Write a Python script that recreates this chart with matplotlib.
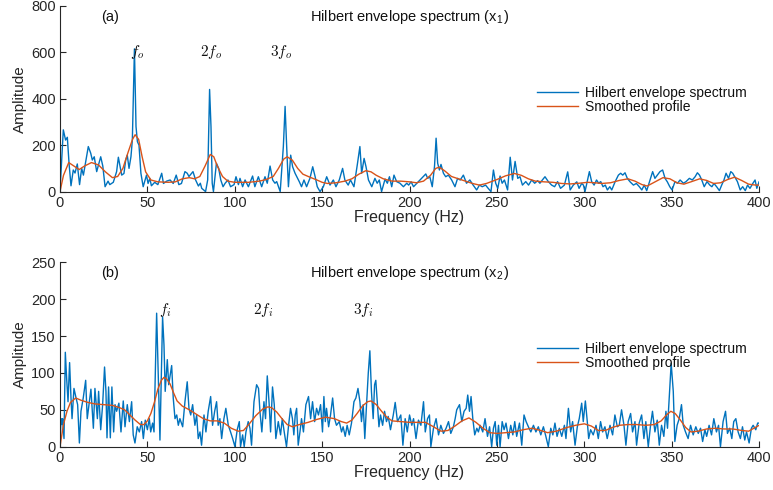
import matplotlib
matplotlib.use("Agg")
import matplotlib.pyplot as plt

plt.rcParams["font.family"] = ["Liberation Sans", "DejaVu Sans"]
plt.rcParams["mathtext.fontset"] = "cm"

BLUE = "#0072BD"
ORANGE = "#D95319"
AXC = "#262626"

# ---- (a) envelope spectrum of x1: frequency (Hz) / amplitude pairs ----
freq_a = [0, 1.9, 3.2, 4.2, 5.2, 6.3, 7.6, 8.6, 9.9, 11.2, 12.4, 13.4, 16.2, 17.6, 18.5, 19.6, 21.0, 23.3, 24.5, 25.8,
          27.5, 28.5, 30.5, 32.4, 33.4, 34.3, 35.3, 36.6, 37.6, 38.5, 39.5, 40.6, 41.4, 42.6, 43.5, 44.3, 45.2, 46.3, 47.6, 49.5,
          50.4, 51.4, 52.3, 54.2, 56.0, 58.2, 59.2, 61.0, 63.0, 64.8, 66.5, 68.0, 69.5, 71.5, 72.8, 73.8, 76.1, 77.6, 79.2, 80.3,
          81.1, 83.3, 84.5, 85.6, 86.4, 87.1, 87.8, 89.5, 90.8, 92.0, 93.3, 94.5, 96.1, 97.6, 99.6, 100.7, 102.1, 103.0, 104.5, 105.9,
          107.8, 110.2, 111.5, 113.5, 115.4, 117.3, 118.6, 120.2, 121.7, 123.0, 124.0, 126.0, 127.8, 128.8, 129.7, 130.7, 132.0, 133.1, 134.5, 135.5,
          136.9, 138.2, 139.6, 141.1, 143.0, 144.6, 146.0, 147.2, 148.8, 150.7, 152.6, 154.5, 156.4, 157.9, 159.8, 161.7, 163.0, 164.9, 166.2, 168.2,
          170.1, 171.6, 172.6, 174.0, 175.1, 176.5, 178.4, 180.2, 181.5, 182.7, 184.0, 186.0, 187.3, 188.5, 189.8, 191.1, 192.6, 194.5, 196.5, 198.4,
          199.5, 200.9, 202.3, 204.1, 206.0, 207.9, 209.3, 210.4, 211.6, 213.0, 214.3, 215.2, 216.1, 217.1, 218.0, 219.4, 220.7, 222.2, 224.1, 226.0,
          227.5, 229.0, 230.8, 232.6, 234.5, 236.4, 238.4, 240.0, 241.6, 243.5, 245.0, 246.6, 248.0, 249.3, 250.5, 251.8, 253.0, 254.3, 256.1, 257.6,
          258.9, 260.4, 261.9, 263.2, 264.6, 266.5, 268.1, 269.9, 271.6, 273.3, 274.6, 276.0, 277.5, 279.4, 281.3, 283.0, 284.7, 286.4, 288.6, 290.5,
          291.9, 293.7, 295.7, 297.0, 298.5, 299.5, 300.4, 302.9, 304.2, 305.6, 307.0, 308.2, 309.4, 310.7, 312.0, 313.2, 314.6, 315.7, 317.6, 319.5,
          320.8, 322.0, 323.3, 324.6, 326.2, 328.1, 329.8, 331.5, 332.9, 334.3, 335.7, 337.6, 339.1, 340.4, 341.8, 343.3, 344.8, 346.2, 347.5, 348.9,
          350.2, 351.9, 353.3, 354.8, 356.7, 358.2, 360.1, 361.8, 363.4, 364.7, 365.9, 367.2, 368.6, 370.2, 371.8, 373.0, 374.2, 375.7, 377.3, 378.6,
          379.9, 381.1, 382.5, 383.8, 384.9, 386.3, 387.6, 389.2, 390.6, 392.1, 393.4, 394.8, 396.4, 397.7, 398.7, 400.0]
amp_a = [0, 266, 222, 234, 120, 25, 93, 80, 119, 30, 100, 71, 194, 165, 136, 150, 86, 150, 110, 21,
         45, 30, 40, 86, 148, 112, 71, 78, 136, 157, 100, 150, 222, 615, 280, 215, 200, 79, 21, 71,
         35, 57, 25, 40, 30, 79, 35, 45, 50, 35, 71, 30, 35, 86, 79, 65, 86, 50, 24, 36,
         14, 0, 50, 440, 280, 36, 0, 122, 100, 50, 21, 36, 50, 21, 30, 64, 30, 57, 21, 50,
         21, 67, 21, 64, 21, 64, 36, 110, 50, 36, 43, 0, 194, 367, 194, 21, 157, 107, 79, 64,
         43, 21, 50, 21, 57, 107, 64, 21, 0, 21, 64, 28, 50, 21, 50, 100, 50, 28, 50, 21,
         115, 194, 79, 143, 107, 50, 21, 57, 36, 50, 0, 54, 36, 64, 21, 71, 43, 36, 21, 36,
         28, 42, 21, 35, 50, 64, 76, 57, 64, 21, 110, 230, 122, 93, 117, 79, 64, 71, 50, 21,
         57, 50, 71, 36, 50, 28, 7, 28, 21, 28, 14, 0, 93, 36, 14, 67, 36, 50, 7, 148,
         50, 130, 57, 64, 28, 43, 28, 50, 36, 47, 36, 50, 64, 43, 28, 21, 43, 14, 28, 85,
         7, 28, 42, 14, 35, 28, 0, 86, 43, 28, 50, 36, 43, 21, 28, 7, 21, 7, 42, 71,
         79, 71, 81, 57, 42, 28, 35, 21, 7, 28, 4, 50, 86, 57, 71, 86, 93, 57, 42, 21,
         7, 43, 36, 50, 36, 43, 57, 50, 64, 81, 71, 50, 21, 43, 28, 21, 35, 21, 4, 28,
         50, 79, 57, 86, 79, 60, 43, 7, 21, 4, 28, 14, 35, 50, 14, 42]

freq_a_smooth = [0, 2, 5, 8, 11, 14, 18, 22, 26, 30, 33, 36, 39, 41.5, 43, 45, 47, 49, 52, 56,
                 62, 66, 70, 74, 77, 80, 83, 86, 88, 90, 93, 96, 100, 108, 114, 118, 122, 125, 128, 130,
                 133, 136, 139, 143, 147, 150, 153, 158, 163, 167, 171, 175, 178, 181, 185, 190, 195, 200, 204, 208,
                 212, 215, 217, 220, 224, 228, 232, 236, 240, 244, 250, 255, 260, 264, 268, 272, 277, 282, 287, 292,
                 297, 302, 306, 310, 315, 320, 325, 329, 333, 336, 340, 345, 349, 353, 357, 361, 366, 370, 374, 378,
                 382, 386, 390, 394, 398, 400]
amp_a_smooth = [0, 70, 125, 110, 95, 110, 125, 115, 85, 60, 65, 100, 170, 225, 245, 225, 150, 85, 50, 42,
                40, 42, 55, 60, 55, 65, 110, 160, 150, 110, 65, 45, 40, 40, 45, 52, 65, 100, 140, 150,
                135, 100, 75, 62, 50, 40, 35, 38, 45, 55, 75, 90, 85, 70, 55, 45, 45, 42, 38, 45,
                70, 100, 105, 90, 65, 55, 45, 35, 28, 35, 52, 68, 78, 70, 55, 45, 42, 40, 35, 33,
                36, 40, 38, 35, 38, 48, 55, 45, 30, 24, 40, 60, 55, 38, 32, 42, 55, 48, 35, 38,
                52, 62, 48, 32, 28, 28]

# ---- (b) envelope spectrum of x2 ----
freq_b = [0, 0.6, 1.1, 1.5, 2.3, 3.05, 3.8, 4.6, 5.5, 6.3, 6.9, 8.0, 9.2, 10.1, 11.1, 12.0, 13.3, 14.7, 15.6, 16.8,
          17.7, 19.1, 20.0, 21.4, 22.1, 23.3, 24.4, 25.5, 26.3, 26.9, 27.8, 28.8, 29.7, 30.7, 31.5, 32.4, 33.7, 34.9, 36.2, 37.2,
          38.5, 39.7, 41.0, 41.9, 42.9, 44.2, 45.4, 46.7, 47.7, 48.8, 50.0, 51.1, 51.9, 53.0, 53.8, 55.3, 56.4, 57.2, 58.7, 59.5,
          60.2, 61.4, 62.2, 63.9, 64.8, 65.8, 66.8, 67.7, 68.6, 70.2, 71.5, 72.8, 73.8, 74.8, 75.9, 77.2, 78.2, 79.1, 80.1, 81.0,
          82.4, 83.5, 84.8, 86.2, 87.3, 88.5, 89.6, 90.5, 91.5, 92.5, 93.8, 94.9, 96.3, 97.6, 98.8, 100.1, 101.4, 102.6, 103.3, 104.5,
          105.4, 106.4, 107.7, 108.7, 109.6, 111.0, 112.5, 113.6, 114.4, 115.5, 116.7, 117.6, 118.6, 119.7, 120.5, 121.6, 122.6, 123.5, 124.9, 126.2,
          127.2, 128.3, 129.6, 130.8, 131.9, 133.0, 133.8, 134.6, 135.4, 136.3, 137.3, 138.2, 139.3, 140.7, 142.2, 143.4, 144.5, 145.7, 146.8, 147.9,
          149.1, 150.2, 151.0, 151.8, 152.5, 153.7, 154.8, 156.0, 157.1, 158.2, 159.8, 161.1, 162.0, 163.2, 164.3, 165.5, 166.8, 168.2, 169.3, 170.5,
          171.6, 172.5, 173.5, 174.4, 175.4, 176.4, 177.3, 178.2, 179.2, 180.0, 180.7, 181.5, 182.5, 183.4, 184.6, 185.7, 186.8, 187.8, 189.1, 190.7,
          191.8, 193.1, 195.0, 196.2, 197.5, 198.7, 200.0, 201.3, 202.3, 203.7, 205.1, 206.5, 208.0, 209.0, 210.3, 211.4, 212.2, 213.7, 215.2, 216.6,
          217.9, 219.4, 220.9, 222.3, 223.6, 225.1, 226.1, 227.0, 228.6, 229.9, 231.2, 232.4, 233.3, 234.3, 235.2, 236.2, 237.3, 238.5, 239.4, 240.4,
          241.9, 243.2, 244.6, 245.8, 247.0, 248.0, 249.0, 249.9, 250.9, 251.8, 253.0, 254.1, 255.2, 256.6, 257.9, 259.1, 260.2, 261.3, 262.9, 264.2,
          265.5, 266.7, 268.0, 269.4, 270.9, 272.3, 273.7, 275.1, 276.6, 278.0, 279.4, 280.8, 282.0, 283.2, 284.4, 285.7, 287.1, 288.6, 289.5, 290.9,
          292.2, 293.3, 294.7, 296.0, 297.1, 298.5, 299.4, 300.6, 301.7, 302.5, 303.6, 305.1, 306.7, 308.0, 309.3, 310.5, 311.8, 313.1, 314.7, 316.2,
          317.5, 318.9, 320.0, 321.3, 322.7, 323.8, 325.1, 326.5, 327.6, 329.0, 329.9, 331.4, 332.8, 334.1, 335.2, 336.6, 337.9, 339.0, 340.4, 341.7,
          342.9, 344.2, 345.5, 346.7, 347.6, 348.6, 349.7, 350.9, 351.8, 353.1, 354.3, 355.6, 356.6, 357.9, 359.4, 360.8, 362.3, 363.8, 365.2, 366.5,
          367.7, 369.0, 370.0, 371.4, 372.8, 374.1, 375.6, 376.8, 377.9, 379.4, 380.8, 381.9, 383.2, 384.4, 385.5, 386.7, 388.0, 389.3, 390.5, 391.8,
          392.8, 394.3, 395.6, 396.6, 398.1, 399.2, 400.0]
amp_b = [0, 38, 30, 38, 11, 128, 93, 61, 114, 66, 38, 79, 66, 57, 5, 48, 66, 90, 38, 61,
         78, 25, 79, 38, 75, 23, 57, 108, 75, 12, 81, 12, 81, 20, 57, 48, 59, 20, 62, 27,
         57, 34, 61, 16, 5, 27, 20, 34, 11, 36, 23, 38, 20, 32, 20, 181, 84, 9, 176, 138,
         75, 118, 84, 110, 66, 38, 43, 29, 38, 27, 61, 88, 52, 43, 57, 29, 43, 11, 20, 2,
         43, 20, 48, 68, 29, 48, 61, 29, 38, 11, 38, 52, 29, 20, 11, 0, 23, 34, 0, 16,
         0, 20, 34, 25, 2, 61, 84, 79, 48, 20, 61, 38, 96, 57, 20, 81, 57, 11, 34, 16,
         38, 20, 0, 29, 52, 38, 16, 43, 52, 2, 20, 38, 20, 57, 68, 38, 61, 34, 52, 43,
         57, 20, 68, 34, 52, 27, 43, 66, 38, 29, 34, 20, 27, 14, 29, 16, 32, 61, 66, 79,
         61, 34, 57, 11, 57, 100, 130, 75, 38, 84, 90, 61, 27, 43, 29, 48, 34, 41, 23, 43,
         60, 34, 43, 2, 38, 20, 43, 29, 38, 11, 36, 29, 61, 20, 38, 43, 0, 25, 38, 16,
         29, 18, 25, 34, 18, 27, 38, 50, 57, 34, 48, 52, 70, 48, 68, 38, 16, 25, 20, 29,
         20, 38, 14, 27, 0, 25, 34, 2, 29, 0, 34, 23, 32, 11, 29, 16, 34, 14, 32, 2,
         43, 34, 27, 20, 29, 20, 27, 16, 27, 14, 0, 25, 16, 32, 14, 25, 14, 29, 11, 52,
         20, 34, 2, 27, 38, 59, 34, 62, 34, 11, 23, 16, 29, 11, 34, 20, 27, 11, 29, 16,
         43, 27, 29, 50, 29, 2, 34, 45, 20, 34, 2, 32, 43, 11, 34, 0, 29, 48, 20, 36,
         2, 29, 14, 48, 25, 66, 113, 75, 7, 29, 38, 57, 29, 20, 11, 29, 16, 27, 18, 25,
         7, 23, 14, 29, 16, 38, 20, 29, 0, 34, 48, 18, 25, 11, 34, 38, 20, 11, 27, 9,
         20, 5, 25, 29, 23, 32, 32]

freq_b_smooth = [0, 2, 4, 6, 9, 12, 16, 20, 25, 30, 34, 37, 40, 43, 46, 48, 50, 52, 54, 56,
                 58, 59.5, 61, 63, 65, 67, 70, 74, 78, 82, 86, 90, 94, 98, 102, 105, 108, 112, 116, 119,
                 121, 124, 127, 130, 133, 137, 142, 147, 152, 157, 161, 164, 167, 170, 173, 176, 178, 181, 184, 187,
                 190, 195, 200, 205, 209, 213, 218, 222, 226, 230, 234, 238, 242, 246, 250, 255, 260, 265, 270, 275,
                 279, 284, 290, 295, 300, 304, 308, 312, 316, 320, 325, 330, 335, 340, 344, 347, 349.5, 352, 355, 358,
                 361, 365, 370, 375, 380, 385, 390, 394, 397, 400]
amp_b_smooth = [0, 30, 48, 60, 66, 63, 60, 58, 57, 56, 53, 50, 43, 36, 30, 30, 35, 45, 60, 78,
                90, 94, 92, 85, 73, 62, 55, 50, 44, 38, 35, 35, 32, 25, 21, 22, 30, 42, 51, 54,
                53, 47, 38, 30, 27, 30, 33, 37, 40, 38, 34, 32, 36, 45, 55, 61, 62, 57, 48, 40,
                35, 34, 33, 33, 33, 28, 21, 22, 28, 35, 39, 33, 25, 19, 18, 19, 20, 23, 25, 22,
                19, 21, 26, 29, 31, 28, 22, 22, 26, 29, 30, 30, 29, 30, 35, 43, 48, 45, 36, 26,
                20, 21, 24, 25, 24, 24, 22, 21, 25, 29]

freq_ticks = [0, 50, 100, 150, 200, 250, 300, 350, 400]
yticks_a = [0, 200, 400, 600, 800]
yticks_b = [0, 50, 100, 150, 200, 250]

panels = [
    dict(pos=[0.0776, 0.609, 0.9044, 0.379], f=freq_a, a=amp_a, fs=freq_a_smooth, s=amp_a_smooth,
         ylim=800, yticks=yticks_a, tag="(a)", sub="1",
         marks=[(44, 603, r"$f_o$"), (86.5, 603, r"$2f_o$"), (126.5, 603, r"$3f_o$")]),
    dict(pos=[0.0776, 0.0884, 0.9044, 0.3763], f=freq_b, a=amp_b, fs=freq_b_smooth, s=amp_b_smooth,
         ylim=250, yticks=yticks_b, tag="(b)", sub="2",
         marks=[(60, 185, r"$f_i$"), (116, 185, r"$2f_i$"), (173.5, 185, r"$3f_i$")]),
]

fig = plt.figure(figsize=(7.73, 4.90), dpi=100)
for p in panels:
    ax = fig.add_axes(p["pos"])
    ax.plot(p["f"], p["a"], color=BLUE, lw=1.0, label="Hilbert envelope spectrum")
    ax.plot(p["fs"], p["s"], color=ORANGE, lw=1.0, label="Smoothed profile")
    ax.set_xlim(0, 400)
    ax.set_ylim(0, p["ylim"])
    ax.set_xticks(freq_ticks)
    ax.set_yticks(p["yticks"])
    for side in ("top", "right"):
        ax.spines[side].set_visible(False)
    for side in ("left", "bottom"):
        ax.spines[side].set_color(AXC)
        ax.spines[side].set_linewidth(0.8)
    ax.tick_params(direction="in", length=4, width=0.8, colors=AXC, labelsize=10.5, pad=3)
    ax.set_xlabel("Frequency (Hz)", fontsize=11.5, color=AXC, labelpad=0)
    ax.set_ylabel("Amplitude", fontsize=11, color=AXC, labelpad=3)
    ax.text(0.5, 0.94, "Hilbert envelope spectrum (x$_\\mathregular{%s}$)" % p["sub"],
            transform=ax.transAxes, ha="center", va="center", fontsize=10.5, color="#111111")
    ax.text(0.072, 0.94, p["tag"], transform=ax.transAxes, ha="center", va="center",
            fontsize=10.5, color="#111111")
    for x, y, s in p["marks"]:
        ax.text(x, y, s, ha="center", va="center", fontsize=11, color="#111111")
    leg = ax.legend(loc="upper left", bbox_to_anchor=(0.682, 0.57), frameon=False,
                    fontsize=10, handlelength=3.0, handletextpad=0.45, labelspacing=0.0,
                    borderpad=0.0, borderaxespad=0.0)
    for t in leg.get_texts():
        t.set_color("#111111")

fig.savefig("out.png", dpi=100)
